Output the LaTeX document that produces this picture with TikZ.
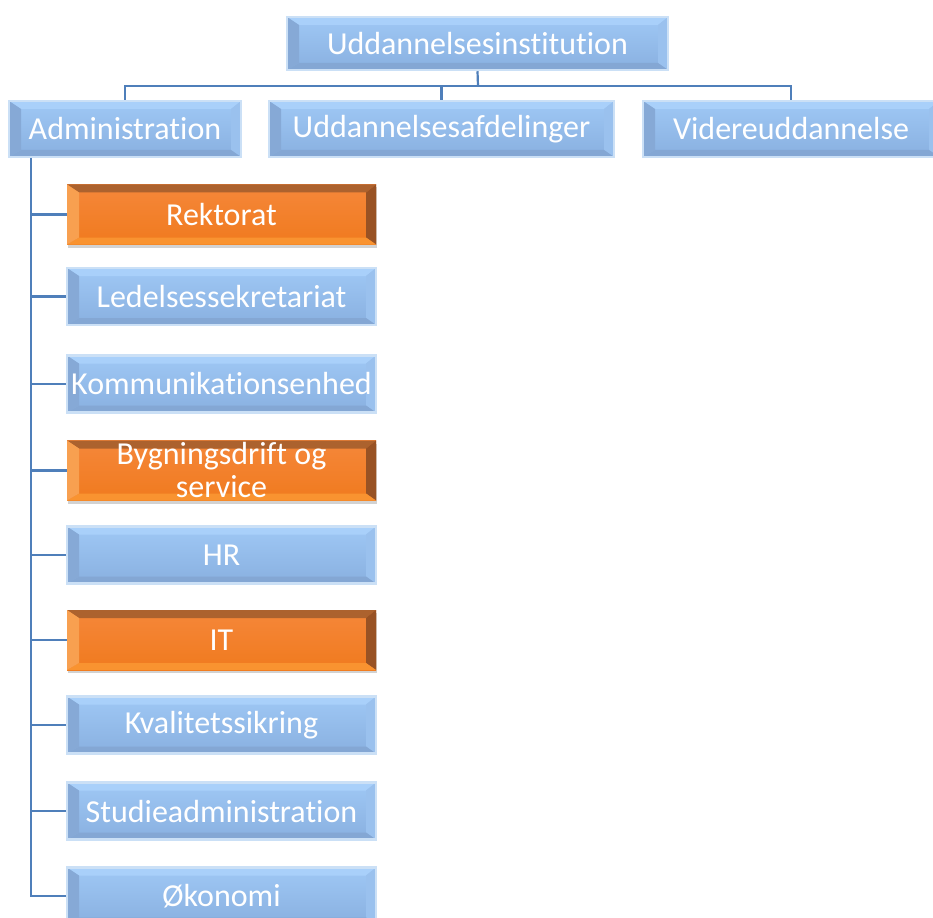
\documentclass[tikz,border=0pt]{standalone}
\usepackage{fontspec}
\setmainfont{Carlito}[Ligatures=NoCommon]
\usetikzlibrary{shadows}

\definecolor{linkblue}{HTML}{4F7FBA}
\definecolor{faceblueA}{HTML}{9FC8F5}
\definecolor{faceblueB}{HTML}{89B0E0}
\definecolor{glowblue}{HTML}{CBE0F6}
\definecolor{bvBtop}{HTML}{A9D0FA}
\definecolor{bvBleft}{HTML}{86A9D6}
\definecolor{bvBright}{HTML}{9AC1EE}
\definecolor{bvBbot}{HTML}{84A7D4}
\definecolor{faceorA}{HTML}{F5873A}
\definecolor{faceorB}{HTML}{F07A1E}
\definecolor{bvOtop}{HTML}{AC622E}
\definecolor{bvOleft}{HTML}{F8A050}
\definecolor{bvOright}{HTML}{985224}
\definecolor{bvObot}{HTML}{F99330}

% paints the four bevel strips of a box: top, right, bottom, left
\newcommand\bevelpaint[4]{%
  \coordinate (bv-sw) at (path picture bounding box.south west);
  \coordinate (bv-ne) at (path picture bounding box.north east);
  \coordinate (bv-nw) at (path picture bounding box.north west);
  \coordinate (bv-se) at (path picture bounding box.south east);
  \coordinate (iv-nw) at ([xshift=12pt,yshift=-8pt]bv-nw);
  \coordinate (iv-ne) at ([xshift=-10pt,yshift=-8pt]bv-ne);
  \coordinate (iv-sw) at ([xshift=12pt,yshift=7pt]bv-sw);
  \coordinate (iv-se) at ([xshift=-10pt,yshift=7pt]bv-se);
  \fill[#1] (bv-nw) -- (bv-ne) -- (iv-ne) -- (iv-nw) -- cycle;
  \fill[#2] (bv-ne) -- (bv-se) -- (iv-se) -- (iv-ne) -- cycle;
  \fill[#3] (bv-se) -- (bv-sw) -- (iv-sw) -- (iv-se) -- cycle;
  \fill[#4] (bv-sw) -- (bv-nw) -- (iv-nw) -- (iv-sw) -- cycle;
}

\tikzset{
  box/.style={inner sep=0pt, text=white, align=center,
    font=\fontsize{32}{33}\selectfont},
  bluebox/.style={box, draw=glowblue, line width=2.5pt,
    top color=faceblueA, bottom color=faceblueB,
    path picture={\bevelpaint{bvBtop}{bvBright}{bvBbot}{bvBleft}}},
  orangebox/.style={box, top color=faceorA, bottom color=faceorB,
    drop shadow={opacity=0.35, shadow xshift=1pt, shadow yshift=-3pt},
    path picture={\bevelpaint{bvOtop}{bvOright}{bvObot}{bvOleft}}},
  child/.style={minimum width=309pt, minimum height=57pt},
  link/.style={draw=linkblue, line width=2.2pt}
}

\begin{document}
\begin{tikzpicture}[x=1pt, y=-1pt]
  \useasboundingbox (0,0) rectangle (933,917);
  \fill[white] (0,0) rectangle (933,917);

  % top level and the three departments
  \node[bluebox, minimum width=381pt, minimum height=53pt] (top) at (477.5,43.5) {Uddannelsesinstitution};
  \node[bluebox, minimum width=232pt, minimum height=56pt] (adm) at (125,129) {Administration};
  \node[bluebox, minimum width=345pt, minimum height=56pt] (udd) at (441.5,129) {Uddannelsesafdelinger};
  \node[bluebox, minimum width=296pt, minimum height=56pt] (vid) at (791,129) {Videreuddannelse};

  % administration units
  \node[orangebox, child, minimum height=60pt] (rek) at (221.5,214.5) {Rektorat};
  \node[bluebox, child] (led) at (221.5,296.5) {Ledelsessekretariat};
  \node[bluebox, child] (kom) at (221.5,384) {Kommunikationsenhed};
  \node[orangebox, child, minimum height=60pt] (byg) at (221.5,470.5) {Bygningsdrift og\\service};
  \node[bluebox, child] (hr) at (221.5,555) {HR};
  \node[orangebox, child, minimum height=60pt] (it) at (221.5,640) {IT};
  \node[bluebox, child] (kva) at (221.5,725) {Kvalitetssikring};
  \node[bluebox, child] (stu) at (221.5,811) {Studieadministration};
  \node[bluebox, child] (oko) at (221.5,896) {Økonomi};

  % connectors
  \coordinate (bus) at (478,86);
  \coordinate (spine) at (31,158);
  \draw[link] (top.south) -- (bus);
  \draw[link] (adm.north) |- (bus) -| (vid.north);
  \draw[link] (udd.north) -- (udd.north |- bus);
  \draw[link] (spine) |- (oko.west);
  \foreach \n in {rek,led,kom,byg,hr,it,kva,stu}
    \draw[link] (spine |- \n.west) -- (\n.west);
\end{tikzpicture}
\end{document}
